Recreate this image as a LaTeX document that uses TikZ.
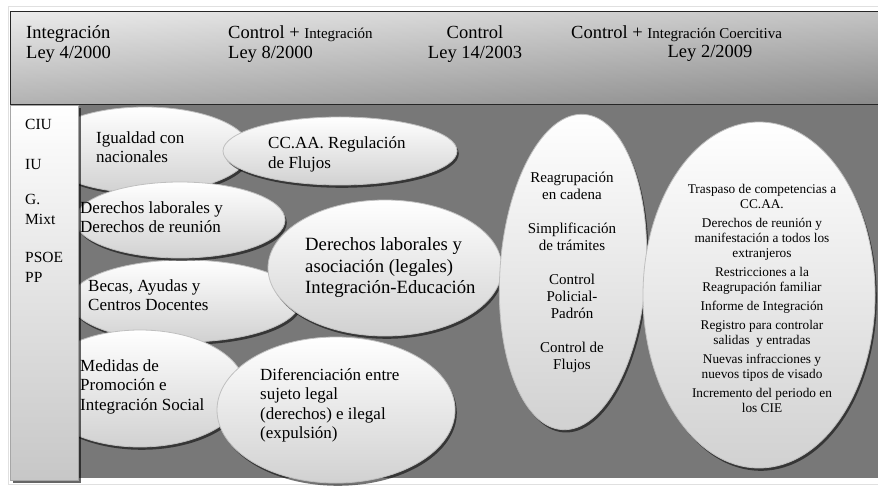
\documentclass[tikz,border=0pt]{standalone}
\usepackage{fontspec}
\setmainfont{Liberation Serif}
\usetikzlibrary{shadows,shapes.geometric}
\definecolor{bgdark}{RGB}{120,120,120}
\newcommand\hsmall{\fontsize{15}{17}\selectfont}
\begin{document}
\begin{tikzpicture}[x=1pt,y=-1pt,
  ell/.style={ellipse, draw=black!25, line width=0.8pt, inner sep=0pt,
    top color=white, bottom color=black!18,
    drop shadow={shadow xshift=1.8pt, shadow yshift=-2.8pt, opacity=0.55, fill=black}},
  et/.style={font=\fontsize{17}{19.5}\selectfont, align=left, inner sep=0pt, anchor=north west},
  hd/.style={font=\fontsize{18.5}{20.5}\selectfont, inner sep=0pt},
  panel/.style={draw=black!35, line width=0.6pt, inner sep=0pt, anchor=north west,
    top color=white, bottom color=black!22,
    drop shadow={shadow xshift=2.5pt, shadow yshift=-2.5pt, opacity=0.6, fill=black}}
]
\useasboundingbox (0,0) rectangle (878,486);
\clip (0,0) rectangle (878,486);
% faint outer frame
\draw[black!12] (8,6) rectangle (890,484);
% dark background
\fill[bgdark] (78,105) rectangle (890,478);
% header bar
\shade[top color=black!9, bottom color=black!36] (10,12) rectangle (890,105);
\shade[left color=white, right color=black, opacity=0.16] (10,12) rectangle (890,105);
\draw[black!85, line width=1pt] (890,12) -- (10,12) -- (10,105) -- (890,105);

% ellipses (back to front)
\node[ell, minimum width=210, minimum height=86] (e1) at (145,150) {};
\node[ell, minimum width=234, minimum height=68] (e2) at (340,151) {};
\node[ell, minimum width=230, minimum height=82] (e4) at (185,301) {};
\node[ell, minimum width=210, minimum height=76] (e3) at (180,220) {};
\node[ell, minimum width=210, minimum height=117] (e6) at (140,388.5) {};
\node[ell, minimum width=234, minimum height=136] (e5) at (385,268) {};
\node[ell, minimum width=238, minimum height=146] (e7) at (336,410) {};
\node[ell, minimum width=146, minimum height=316, rotate=-4] (e8) at (573,272) {};
\node[ell, minimum width=232, minimum height=346] (e9) at (759,295) {};

% left panel
\node[panel, minimum width=68, minimum height=375] (lp) at (10,105) {};

% header texts
\node[hd, align=left, anchor=north west] (h1) at (26,25) {Integración\\Ley 4/2000};
\node[hd, align=left, anchor=north west] (h2) at (228,25) {Control + {\hsmall Integración}\\Ley 8/2000};
\node[hd, align=center, anchor=north] (h3) at (475,25) {Control\\Ley 14/2003};
\node[hd, anchor=north west] (h4) at (571,25) {Control + {\hsmall Integración Coercitiva}};
\node[hd, anchor=north] (h5) at (710,45.5) {Ley 2/2009};

% party list
\node[font=\fontsize{15.5}{20}\selectfont, align=left, anchor=north west, inner sep=0pt] (parties) at (25,119.5)
  {CIU\\[20pt]IU\\[15pt]G.\\Mixt\\[18pt]PSOE\\PP};

% ellipse texts
\node[et] (t1) at (96,131.5) {Igualdad con\\nacionales};
\node[et] (t2) at (268,136.5) {CC.AA. Regulación\\de Flujos};
\node[et] (t3) at (80,201.5) {Derechos laborales y\\Derechos de reunión};
\node[et] (t4) at (88,279.5) {Becas, Ayudas y\\Centros Docentes};
\node[et, font=\fontsize{18.7}{21.5}\selectfont] (t5) at (305,237.5) {Derechos laborales y\\asociación (legales)\\Integración-Educación};
\node[et] (t6) at (80,359.5) {Medidas de\\Promoción e\\Integración Social};
\node[et] (t7) at (260,368) {Diferenciación entre\\sujeto legal\\(derechos) e ilegal\\(expulsión)};
\node[font=\fontsize{15}{17}\selectfont, align=center, inner sep=0pt] (t8) at (572,272)
  {Reagrupación\\en cadena\\[17pt]Simplificación\\de trámites\\[17pt]Control\\Policial-\\Padrón\\[17pt]Control de\\Flujos};
\node[font=\fontsize{13.3}{15}\selectfont, align=center, inner sep=0pt] (t9) at (762,298)
  {Traspaso de competencias a\\CC.AA.\\[4pt]Derechos de reunión y\\manifestación a todos los\\extranjeros\\[4pt]Restricciones a la\\Reagrupación familiar\\[4pt]Informe de Integración\\[4pt]Registro para controlar\\salidas\ \ y entradas\\[4pt]Nuevas infracciones y\\nuevos tipos de visado\\[4pt]Incremento del periodo en\\los CIE};
\end{tikzpicture}
\end{document}
